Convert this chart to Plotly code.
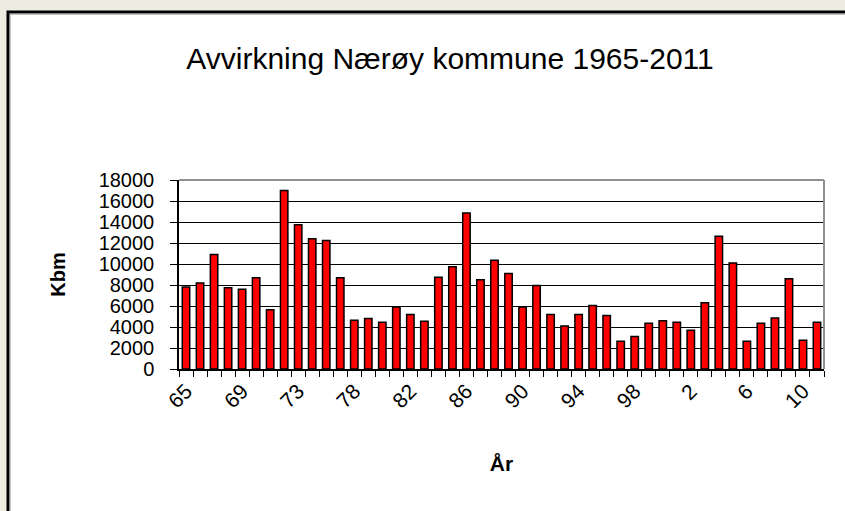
import plotly.graph_objects as go

years = list(range(1965, 1977)) + list(range(1978, 2012))
labels = [str(y % 100) for y in years]
volumes = [7800, 8200, 10900, 7750, 7600, 8700, 5650, 17000, 13750, 12400,
           12250, 8700, 4650, 4800, 4450, 5900, 5200, 4550, 8750, 9750,
           14850, 8500, 10350, 9100, 5900, 7950, 5200, 4100, 5200, 6050,
           5100, 2650, 3100, 4350, 4600, 4450, 3700, 6300, 12650, 10100,
           2650, 4350, 4850, 8600, 2750, 4450]
tick_text = [lab if i % 4 == 0 else "" for i, lab in enumerate(labels)]

W, H = 845, 511
L, R, T, B = 179, 21, 180, 142
pw, ph = W - L - R, H - T - B

def px(x):
    return (x - L) / pw

def py(y):
    return (H - B - y) / ph

FONT = "Liberation Sans, Arial, sans-serif"

fig = go.Figure(go.Bar(
    x=labels, y=volumes,
    marker=dict(color="#FF0000", line=dict(color="black", width=1.5)),
))

fig.update_layout(
    width=W, height=H,
    margin=dict(l=L, r=R, t=T, b=B),
    paper_bgcolor="#EEEBE0",
    plot_bgcolor="white",
    bargap=0.47,
    showlegend=False,
    font=dict(family=FONT, color="black"),
    title=dict(text="Avvirkning Nærøy kommune 1965-2011",
               x=450 / W, xanchor="center", xref="container",
               y=1 - 58 / H, yanchor="middle",
               font=dict(size=30, family=FONT, color="black")),
    shapes=[
        dict(type="rect", xref="paper", yref="paper",
             x0=px(8), x1=px(2000), y0=py(12), y1=py(2000),
             fillcolor="white", line=dict(color="black", width=3), layer="below"),
        dict(type="rect", xref="paper", yref="paper",
             x0=px(10), x1=px(2000), y0=py(14), y1=py(2000),
             fillcolor="rgba(0,0,0,0)", line=dict(color="#888888", width=1), layer="below"),
        dict(type="line", xref="paper", yref="paper", x0=0, x1=1, y0=1, y1=1,
             line=dict(color="#909090", width=2)),
        dict(type="line", xref="paper", yref="paper", x0=1, x1=1, y0=0, y1=1,
             line=dict(color="#909090", width=2)),
    ],
)

fig.update_xaxes(
    type="category",
    tickmode="array", tickvals=labels, ticktext=tick_text,
    tickson="boundaries", ticks="outside", ticklen=6, tickcolor="black",
    tickangle=-45, tickfont=dict(size=21, family=FONT, color="black"),
    showline=True, linecolor="black", linewidth=1.5,
    showgrid=False,
    title=dict(text="<b>År</b>", font=dict(size=21, family=FONT, color="black"), standoff=45),
)
fig.update_yaxes(
    range=[0, 18000], dtick=2000, tick0=0, tickformat="d",
    ticks="outside", ticklen=7, tickcolor="black",
    ticklabelstandoff=12,
    tickfont=dict(size=20, family=FONT, color="black"),
    showline=True, linecolor="black", linewidth=1.5,
    showgrid=True, gridcolor="black", gridwidth=1,
    zeroline=False,
    title=dict(text="<b>Kbm</b>", font=dict(size=20, family=FONT, color="black"), standoff=28),
)

fig.write_html("out.html",
               config={"displayModeBar": False},
               post_script="document.body.style.margin='0';document.body.style.overflow='hidden';")
